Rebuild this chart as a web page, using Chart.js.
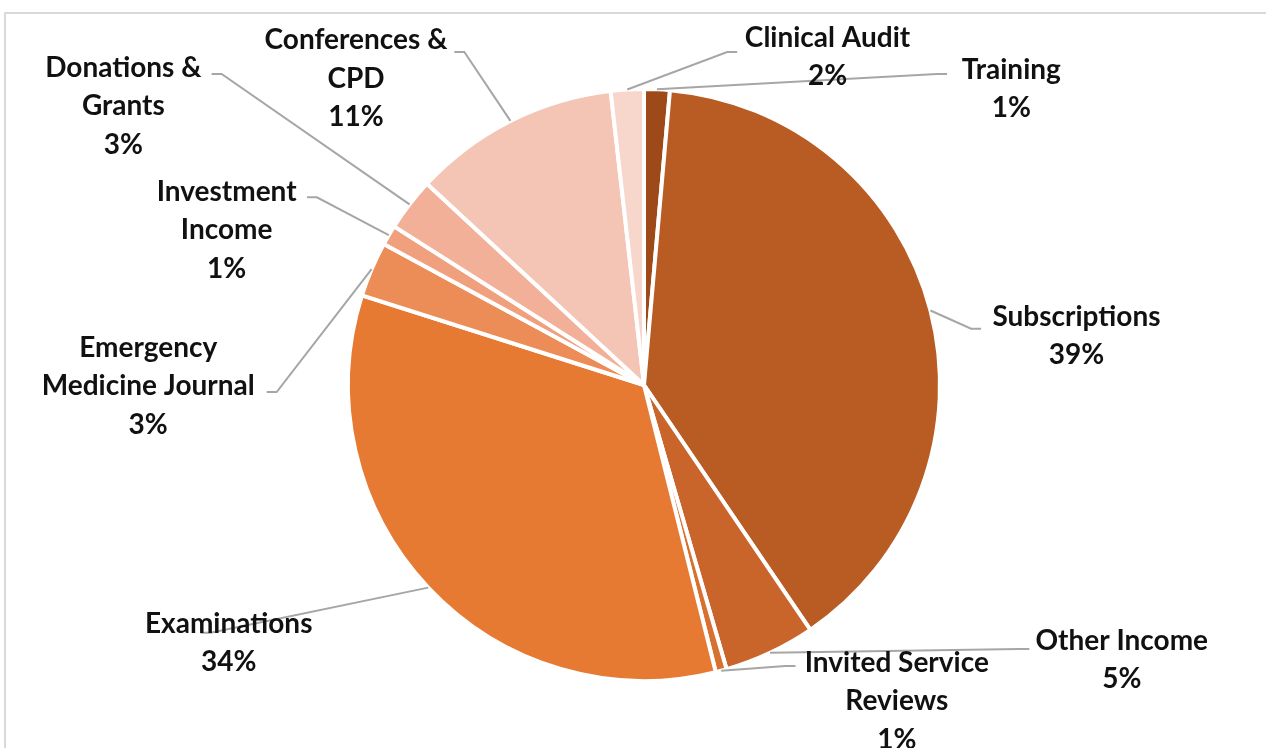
<!DOCTYPE html>
<html>
<head>
<meta charset="utf-8">
<script src="https://cdn.jsdelivr.net/npm/chart.js@4"></script>
<style>
  html, body { margin: 0; padding: 0; background: #fff; }
  #wrap { position: relative; width: 1266px; height: 748px; }
  #frame { position: absolute; left: 4px; top: 12px; right: -10px; bottom: -10px; border: 2px solid #d9d9d9; }
  canvas { position: absolute; left: 0; top: 0; }
</style>
</head>
<body>
<div id="wrap">
  <div id="frame"></div>
  <canvas id="chart" width="1266" height="748"></canvas>
</div>
<script>
// income categories, clockwise from 12 o'clock
var categories = [
  ["Training"],
  ["Subscriptions"],
  ["Other Income"],
  ["Invited Service", "Reviews"],
  ["Examinations"],
  ["Emergency", "Medicine Journal"],
  ["Investment", "Income"],
  ["Donations &", "Grants"],
  ["Conferences &", "CPD"],
  ["Clinical Audit"],
]
// share of income, %
var values = [1.4, 39.1, 5.0, 0.6, 33.8, 3.0, 1.1, 2.9, 11.3, 1.8]
var colors = [
  "#9e4a18", "#b85c24", "#c9652b", "#d8702f", "#e67a33",
  "#ec8c56", "#f0a07c", "#f2b098", "#f4c4b4", "#f7d6cc",
]

// label placement in pie-radius units from the centre:
// [label x, label y, elbow x, elbow y, hook direction]
var labelLayout = [
  [1.241, -1.007, 0.990, -1.051, 1],
  [1.461, -0.173, 1.105, -0.190, 1],
  [1.614, 0.922, 1.268, 0.892, 1],
  [0.854, 1.061, 0.478, 0.949, 1],
  [-1.403, 0.864, -1.464, 0.837, -1],
  [-1.675, -0.003, -1.241, 0.024, -1],
  [-1.410, -0.529, -1.105, -0.634, -1],
  [-1.759, -0.949, -1.427, -1.051, -1],
  [-0.973, -1.041, -0.607, -1.125, -1],
  [0.620, -1.115, 0.281, -1.125, 1],
]

var total = values.reduce((a, b) => a + b, 0)

var labelPlugin = {
  id: "pieLabels",
  afterDatasetsDraw: function (chart) {
    var ctx = chart.ctx
    var arcs = chart.getDatasetMeta(0).data
    ctx.save()
    arcs.forEach((arc, i) => {
      var p = arc.getProps(["x", "y", "startAngle", "endAngle", "outerRadius"], true)
      var r = p.outerRadius
      var mid = (p.startAngle + p.endAngle) / 2
      var lay = labelLayout[i]
      var sx = p.x + Math.cos(mid) * r
      var sy = p.y + Math.sin(mid) * r
      var ex = p.x + lay[2] * r
      var ey = p.y + lay[3] * r

      ctx.strokeStyle = "#a6a6a6"
      ctx.lineWidth = 2
      ctx.beginPath()
      ctx.moveTo(sx, sy)
      ctx.lineTo(ex, ey)
      ctx.lineTo(ex + lay[4] * 10, ey)
      ctx.stroke()

      var lines = categories[i].concat([Math.round((values[i] / total) * 100) + "%"])
      var lx = p.x + lay[0] * r
      var ly = p.y + lay[1] * r + 2
      var lh = 38.5
      ctx.fillStyle = "#111"
      ctx.font = "bold 28px Lato, 'Noto Sans', sans-serif"
      ctx.textAlign = "center"
      ctx.textBaseline = "middle"
      lines.forEach((t, k) => {
        ctx.fillText(t, lx, ly + (k - (lines.length - 1) / 2) * lh)
      })
    })
    ctx.restore()
  },
}

new Chart(document.getElementById("chart"), {
  type: "pie",
  data: {
    labels: categories.map((c) => c.join(" ")),
    datasets: [
      {
        data: values,
        backgroundColor: colors,
        borderColor: "#ffffff",
        borderWidth: 4,
      },
    ],
  },
  options: {
    responsive: false,
    animation: false,
    layout: { padding: { left: 100, right: 78, top: 87, bottom: 65 } },
    plugins: {
      legend: { display: false },
      tooltip: { enabled: false },
    },
  },
  plugins: [labelPlugin],
})
</script>
</body>
</html>
